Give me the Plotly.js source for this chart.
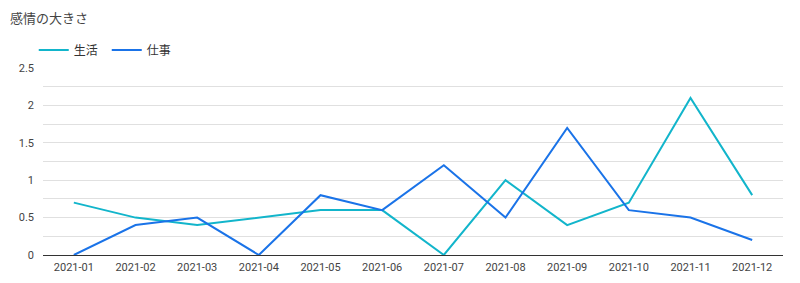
<!DOCTYPE html>
<html><head><meta charset="utf-8">
<script src="https://cdn.plot.ly/plotly-3.0.1.min.js"></script>
<style>html,body{margin:0;padding:0;background:#fff}#c{width:800px;height:283px}</style>
</head><body><div id="c"></div>
<script>
const months = ["2021-01","2021-02","2021-03","2021-04","2021-05","2021-06","2021-07","2021-08","2021-09","2021-10","2021-11","2021-12"];
const life = [0.7,0.5,0.4,0.5,0.6,0.6,0,1.0,0.4,0.7,2.1,0.8];
const work = [0,0.4,0.5,0,0.8,0.6,1.2,0.5,1.7,0.6,0.5,0.2];
const yTicks = [0,0.5,1,1.5,2,2.5];
const yTickText = ["0","0.5","1","1.5","2","2.5"];
const font = '"Noto Sans CJK JP", Roboto, sans-serif';
const tickFont = 'Roboto, "Noto Sans CJK JP", sans-serif';
Plotly.newPlot('c', [
  {x: months, y: life, name: '生活', type: 'scatter', mode: 'lines', line: {color: '#12b5cb', width: 2}},
  {x: months, y: work, name: '仕事', type: 'scatter', mode: 'lines', line: {color: '#1a73e8', width: 2}}
], {
  width: 800, height: 283,
  margin: {l: 43, r: 17, t: 68, b: 28},
  paper_bgcolor: '#fff', plot_bgcolor: '#fff',
  font: {family: font, size: 11, color: '#444'},
  title: {text: '感情の大きさ', x: 0.0125, xanchor: 'left', y: 0.935, yanchor: 'middle', font: {family: font, size: 13, color: '#444'}},
  showlegend: true,
  legend: {orientation: 'h', x: -0.0125, xanchor: 'left', y: 1.096, yanchor: 'middle', font: {family: font, size: 12, color: '#333'}, itemwidth: 30, entrywidth: 28, traceorder: 'normal'},
  xaxis: {type: 'category', range: [-0.5, 11.5], showgrid: false, zeroline: false, showline: false, ticks: '', ticklabelstandoff: 4, tickfont: {family: tickFont, size: 11, color: '#444'}, fixedrange: true},
  yaxis: {range: [0, 2.5], tickvals: yTicks, ticktext: yTickText, showgrid: true, gridcolor: '#e0e0e0', gridwidth: 1,
    minor: {tickvals: [0.25,0.75,1.25,1.75,2.25], showgrid: true, gridcolor: '#e0e0e0', gridwidth: 1, ticks: ''},
    zeroline: true, zerolinecolor: '#333', zerolinewidth: 1, showline: false, ticks: '', ticklen: 0, ticklabelstandoff: 8, tickfont: {family: tickFont, size: 11, color: '#444'}, fixedrange: true}
}, {displayModeBar: false, staticPlot: true});
</script></body></html>
